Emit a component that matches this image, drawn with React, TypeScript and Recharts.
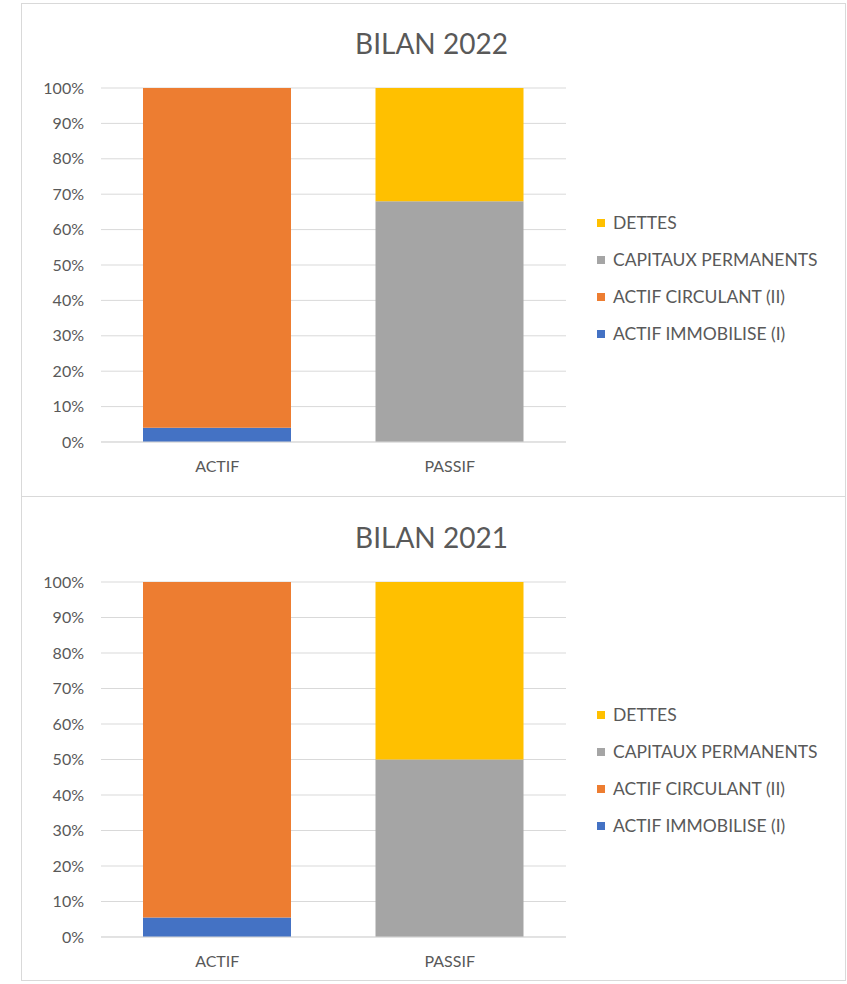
import React from 'react';
import { BarChart, Bar, XAxis, YAxis, CartesianGrid, Legend } from 'recharts';

const categories = ['ACTIF', 'PASSIF'];
const yTicks = [0, 10, 20, 30, 40, 50, 60, 70, 80, 90, 100];
const seriesKeys = ['immo', 'circ', 'cap', 'dettes'];
const seriesNames = ['ACTIF IMMOBILISE (I)', 'ACTIF CIRCULANT (II)', 'CAPITAUX PERMANENTS', 'DETTES'];
const seriesColors = ['#4472C4', '#ED7D31', '#A5A5A5', '#FFC000'];
const legendOrder = [3, 2, 1, 0];

const actifImmobilise2022 = [4, 0];
const actifCirculant2022 = [96, 0];
const capitauxPermanents2022 = [0, 68];
const dettes2022 = [0, 32];

const actifImmobilise2021 = [5.5, 0];
const actifCirculant2021 = [94.5, 0];
const capitauxPermanents2021 = [0, 50];
const dettes2021 = [0, 50];

const FONT = 'Lato, "Open Sans", sans-serif';
const TEXT = '#595959';

function buildData(immo: number[], circ: number[], cap: number[], dettes: number[]) {
  return categories.map((name, i) => ({
    name,
    immo: immo[i],
    circ: circ[i],
    cap: cap[i],
    dettes: dettes[i],
  }));
}

const data2022 = buildData(actifImmobilise2022, actifCirculant2022, capitauxPermanents2022, dettes2022);
const data2021 = buildData(actifImmobilise2021, actifCirculant2021, capitauxPermanents2021, dettes2021);

const LegendContent = () => (
  <div style={{ fontFamily: FONT, fontSize: 17.5, color: TEXT }}>
    {legendOrder.map((i) => (
      <div key={seriesKeys[i]} style={{ height: 37, display: 'flex', alignItems: 'center', whiteSpace: 'nowrap' }}>
        <span style={{ display: 'inline-block', width: 8, height: 8, background: seriesColors[i], marginRight: 8 }} />
        <span>{seriesNames[i]}</span>
      </div>
    ))}
  </div>
);

type PanelProps = {
  title: string;
  data: any[];
  top: number;
  height: number;
  plotTop: number;
  plotBottom: number;
  titleTop: number;
  legendTop: number;
};

const Panel = ({ title, data, top, height, plotTop, plotBottom, titleTop, legendTop }: PanelProps) => {
  const innerW = 823;
  const innerH = height - 2;
  return (
    <div
      style={{
        position: 'absolute',
        left: 21,
        top,
        width: innerW + 2,
        height,
        boxSizing: 'border-box',
        border: '1px solid #D9D9D9',
        background: '#fff',
      }}
    >
      <div
        style={{
          position: 'absolute',
          left: 0,
          width: innerW - 4,
          top: titleTop,
          textAlign: 'center',
          fontFamily: FONT,
          fontSize: 28,
          lineHeight: '28px',
          color: TEXT,
        }}
      >
        {title}
      </div>
      <BarChart
        width={innerW}
        height={innerH}
        data={data}
        margin={{ top: plotTop, right: 279, left: 0, bottom: 0 }}
        barSize={148}
      >
        <CartesianGrid vertical={false} stroke="#D9D9D9" />
        <XAxis
          dataKey="name"
          height={innerH - plotBottom}
          tickLine={false}
          axisLine={{ stroke: '#D9D9D9' }}
          tickSize={0}
          tickMargin={19}
          tick={{ fill: TEXT, fontSize: 16, fontFamily: FONT }}
        />
        <YAxis
          width={79}
          domain={[0, 100]}
          ticks={yTicks}
          tickFormatter={(v: number) => `${v}%`}
          axisLine={false}
          tickLine={false}
          tickSize={0}
          tickMargin={17}
          tick={{ fill: TEXT, fontSize: 16, fontFamily: FONT }}
          interval={0}
        />
        <Legend
          layout="vertical"
          align="center"
          verticalAlign="middle"
          content={LegendContent}
          wrapperStyle={{ left: 575, top: legendTop, width: 240, height: 148 }}
        />
        {seriesKeys.map((k, i) => (
          <Bar
            key={k}
            dataKey={k}
            name={seriesNames[i]}
            stackId="a"
            fill={seriesColors[i]}
            isAnimationActive={false}
          />
        ))}
      </BarChart>
    </div>
  );
};

export default function App() {
  return (
    <div style={{ position: 'absolute', left: 0, top: 0, width: 847, height: 984, background: '#fff' }}>
      <Panel
        title="BILAN 2022"
        data={data2022}
        top={3}
        height={494}
        plotTop={84}
        plotBottom={438}
        titleTop={25}
        legendTop={200}
      />
      <Panel
        title="BILAN 2021"
        data={data2021}
        top={496}
        height={485}
        plotTop={85}
        plotBottom={440}
        titleTop={26}
        legendTop={199}
      />
    </div>
  );
}
